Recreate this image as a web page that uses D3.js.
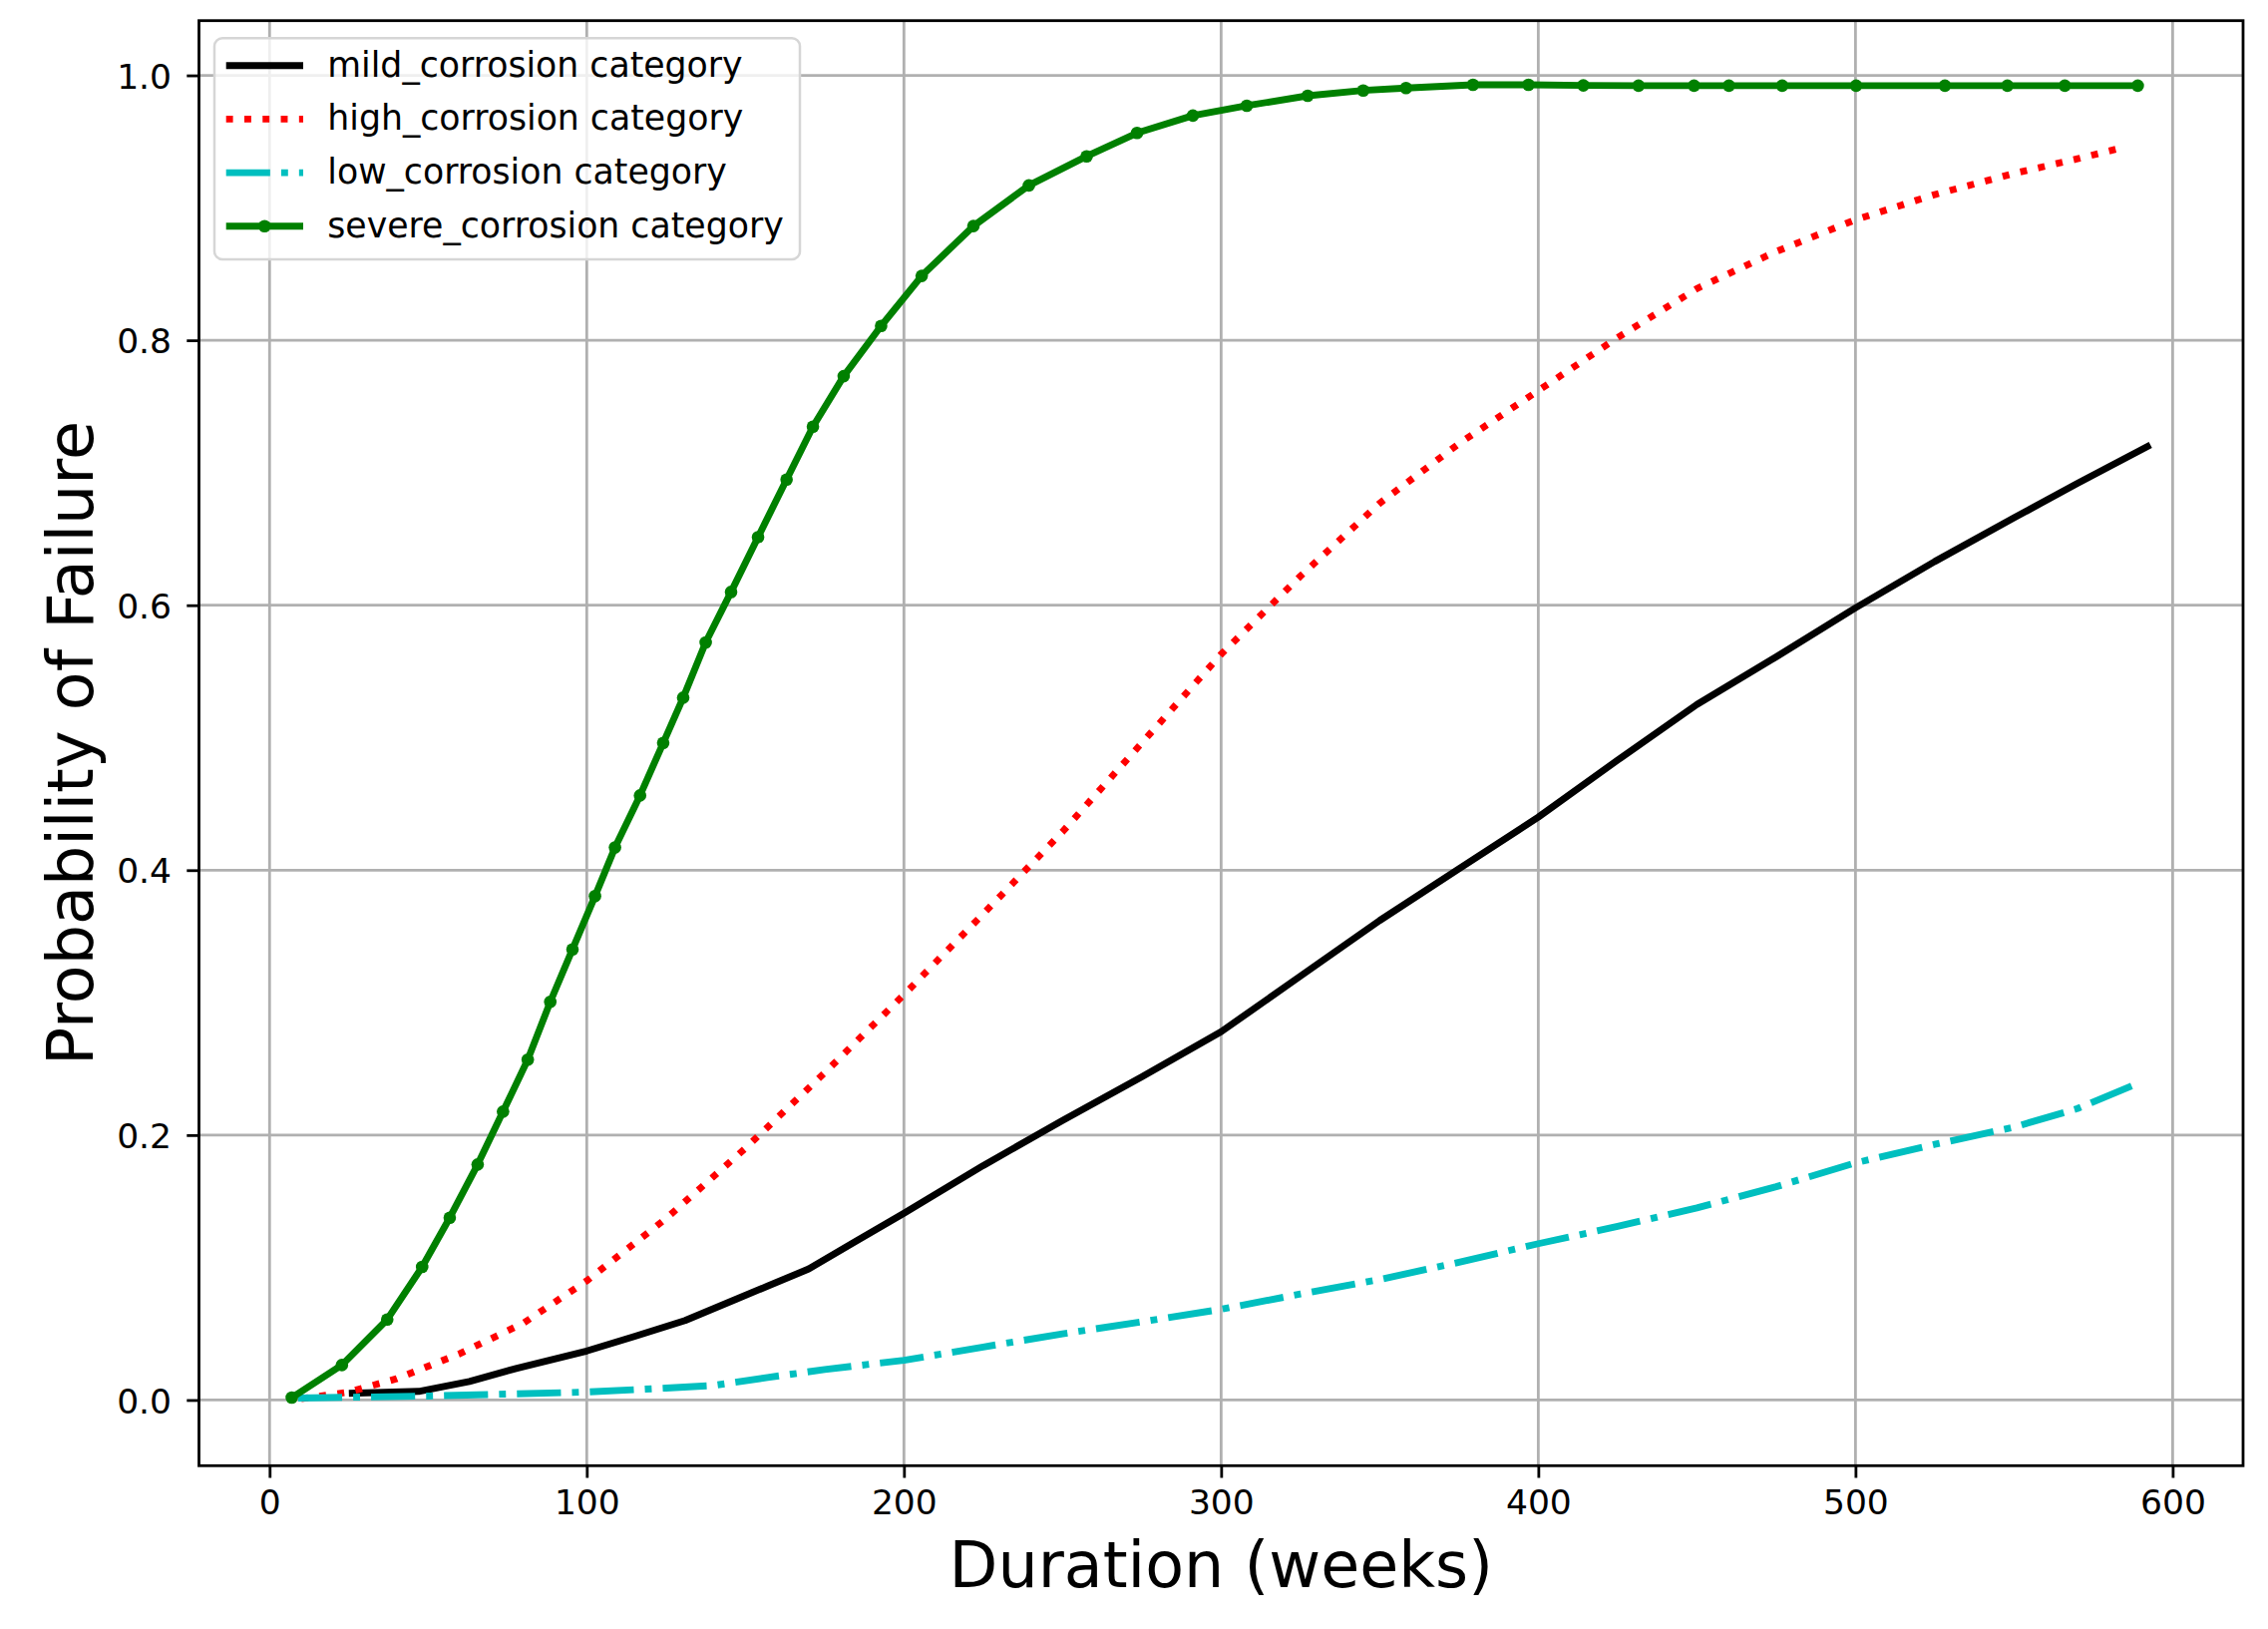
<!DOCTYPE html>
<html><head><meta charset="utf-8">
<script src="https://cdn.jsdelivr.net/npm/d3@7"></script>
<style>
body{margin:0;background:#fff}
svg{display:block}
text{font-family:"DejaVu Sans",sans-serif;fill:#000}
</style>
</head><body>
<script>
// ---- data ----
const seriesNames = ["mild_corrosion category","high_corrosion category","low_corrosion category","severe_corrosion category"];

const mildX = [25,47,63,78,100,115,131,147,157,170,185,200,225,250,275,300,325,350,375,400,425,450,475,500,525,550,570,593];
const mildY = [0.005,0.0065,0.014,0.024,0.037,0.048,0.060,0.076,0.086,0.099,0.12,0.141,0.177,0.211,0.244,0.278,0.320,0.362,0.401,0.440,0.483,0.525,0.561,0.598,0.633,0.666,0.692,0.721];

const highX = [10,25,40,60,80,100,125,150,175,200,225,250,275,300,325,350,375,400,425,450,475,500,525,550,570,585];
const highY = [0.001,0.006,0.016,0.035,0.058,0.090,0.137,0.190,0.247,0.306,0.367,0.429,0.496,0.563,0.622,0.677,0.722,0.762,0.802,0.839,0.867,0.891,0.910,0.926,0.937,0.946];

const lowX = [9,50,100,125,140,157,175,200,225,250,275,300,325,350,375,400,425,450,475,500,525,550,570,589];
const lowY = [0.0015,0.003,0.006,0.009,0.011,0.017,0.023,0.030,0.040,0.050,0.059,0.0685,0.080,0.091,0.104,0.118,0.131,0.145,0.161,0.179,0.193,0.206,0.220,0.239];

const severeX = [7.0,22.8,37.1,48.1,56.8,65.6,73.6,81.4,88.5,95.5,102.6,108.9,116.8,124.1,130.4,137.5,145.5,154.0,163.0,171.3,181.0,192.8,205.6,221.9,239.4,257.6,273.5,291.1,308.1,327.3,344.8,358.3,379.4,396.9,414.2,431.6,449.1,460.1,476.9,500.2,528.2,547.9,566.0,589.0];
const severeY = [0.0018,0.0264,0.0608,0.1005,0.1376,0.1778,0.2177,0.2569,0.3006,0.3402,0.3804,0.4171,0.4564,0.4960,0.5302,0.5719,0.6100,0.6514,0.6949,0.7348,0.7729,0.8108,0.8486,0.8862,0.9169,0.9389,0.9565,0.9696,0.9771,0.9846,0.9886,0.9904,0.9929,0.9929,0.9924,0.9922,0.9922,0.9922,0.9922,0.9922,0.9922,0.9922,0.9922,0.9922];

const xTicks = [0,100,200,300,400,500,600];
const xTickLabels = ["0","100","200","300","400","500","600"];
const yTicks = [0,0.2,0.4,0.6,0.8,1.0];
const yTickLabels = ["0.0","0.2","0.4","0.6","0.8","1.0"];
const xDomain = [-22.26, 622.2];
const yDomain = [-0.0496, 1.0413];

// ---- layout ----
const W = 2274, H = 1633;
const F = {left:199.5, right:2249, top:20.7, bottom:1469.3};
const LW = 6.9;
const tickFs = 34.5, labelFs = 63.5, legendFs = 34.7;

const svg = d3.select("body").append("svg").attr("width",W).attr("height",H);
svg.append("rect").attr("width",W).attr("height",H).attr("fill","#fff");

const x = d3.scaleLinear().domain(xDomain).range([F.left,F.right]);
const y = d3.scaleLinear().domain(yDomain).range([F.bottom,F.top]);

// grid
const grid = svg.append("g");
grid.selectAll(".gx").data(xTicks).join("line")
  .attr("x1",d=>x(d)).attr("x2",d=>x(d)).attr("y1",F.top).attr("y2",F.bottom)
  .attr("stroke","#b0b0b0").attr("stroke-width",2.8);
grid.selectAll(".gy").data(yTicks).join("line")
  .attr("y1",d=>y(d)).attr("y2",d=>y(d)).attr("x1",F.left).attr("x2",F.right)
  .attr("stroke","#b0b0b0").attr("stroke-width",2.8);

// series
svg.append("clipPath").attr("id","clip").append("rect")
  .attr("x",F.left).attr("y",F.top).attr("width",F.right-F.left).attr("height",F.bottom-F.top);
const plot = svg.append("g").attr("clip-path","url(#clip)");
const line = d3.line().x(d=>x(d[0])).y(d=>y(d[1]));
const zip = (a,b)=>a.map((v,i)=>[v,b[i]]);

const styles = [
  {data:zip(mildX,mildY), color:"#000000", dash:null},
  {data:zip(highX,highY), color:"#ff0000", dash:[LW*1, LW*1.65]},
  {data:zip(lowX,lowY), color:"#00bfbf", dash:[LW*6.4, LW*1.6, LW*1, LW*1.6]},
  {data:zip(severeX,severeY), color:"#008000", dash:null, marker:true}
];
styles.forEach(s=>{
  const p = plot.append("path").attr("d",line(s.data)).attr("fill","none")
    .attr("stroke",s.color).attr("stroke-width",LW)
    .attr("stroke-linejoin","round").attr("stroke-linecap","butt");
  if (s.dash) p.attr("stroke-dasharray", s.dash.join(" "));
  if (s.marker) {
    plot.selectAll(null).data(s.data).join("circle")
      .attr("cx",d=>x(d[0])).attr("cy",d=>y(d[1])).attr("r",6.3)
      .attr("fill",s.color);
  }
});

// frame
svg.append("rect").attr("x",F.left).attr("y",F.top).attr("width",F.right-F.left).attr("height",F.bottom-F.top)
  .attr("fill","none").attr("stroke","#000").attr("stroke-width",2.8);

// axes
const xAxis = d3.axisBottom(x).tickValues(xTicks).tickFormat((d,i)=>xTickLabels[i]).tickSize(12.2).tickPadding(12);
const gx = svg.append("g").attr("transform",`translate(0,${F.bottom})`).call(xAxis);
const yAxis = d3.axisLeft(y).tickValues(yTicks).tickFormat((d,i)=>yTickLabels[i]).tickSize(12.2).tickPadding(15.3);
const gy = svg.append("g").attr("transform",`translate(${F.left},0)`).call(yAxis);
[gx,gy].forEach(g=>{
  g.select(".domain").remove();
  g.selectAll(".tick line").attr("stroke","#000").attr("stroke-width",2.8);
  g.selectAll(".tick text").style("font-family",'"DejaVu Sans",sans-serif').attr("font-size",tickFs).attr("fill","#000");
});
gy.selectAll(".tick text").attr("dy","0.365em");

// axis labels
svg.append("text").attr("x",(F.left+F.right)/2).attr("y",1591).attr("text-anchor","middle")
  .attr("font-size",labelFs).text("Duration (weeks)");
svg.append("text").attr("transform",`translate(93,${(F.top+F.bottom)/2}) rotate(-90)`).attr("text-anchor","middle")
  .attr("font-size",labelFs).text("Probability of Failure");

// legend
const L = {x:215, y:38.3, w:587, h:221.7};
const lg = svg.append("g");
lg.append("rect").attr("x",L.x).attr("y",L.y).attr("width",L.w).attr("height",L.h).attr("rx",8).attr("ry",8)
  .attr("fill","#fff").attr("fill-opacity",0.8).attr("stroke","#d6d6d6").attr("stroke-width",2.5);
const rowY = [65.7,119.4,173.1,226.8];
styles.forEach((s,i)=>{
  const yy = rowY[i];
  const h = lg.append("line").attr("x1",226.7).attr("x2",304).attr("y1",yy).attr("y2",yy)
    .attr("stroke",s.color).attr("stroke-width",LW).attr("stroke-linecap","butt");
  if (s.dash) h.attr("stroke-dasharray", s.dash.join(" "));
  if (s.marker) lg.append("circle").attr("cx",265.3).attr("cy",yy).attr("r",6.3).attr("fill",s.color);
  lg.append("text").attr("x",328.3).attr("y",yy+11).attr("font-size",legendFs).text(seriesNames[i]);
});
</script>
</body></html>
